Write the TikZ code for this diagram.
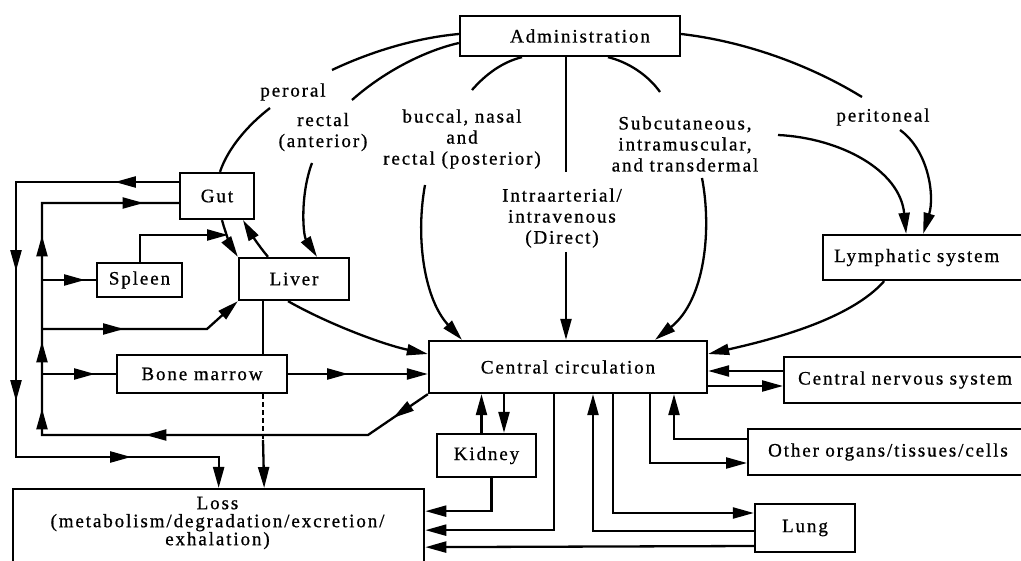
\documentclass[tikz,border=0pt]{standalone}
\usepackage{fontspec}
\setmainfont[LetterSpace=10,FakeBold=0.8]{Liberation Serif}
\usetikzlibrary{arrows.meta,decorations.markings,calc}
\begin{document}
\begin{tikzpicture}[x=1pt,y=-1pt, line width=2.3pt,
  >={Triangle[length=21pt,width=11pt]},
  box/.style={draw, rectangle, inner sep=0pt},
  lbl/.style={align=center, inner sep=1pt},
  marr/.style={postaction={decorate, decoration={markings, mark=at position #1 with {\arrow{>}}}}},
  font=\fontsize{19}{21}\selectfont]
\useasboundingbox (0,0) rectangle (1021,561);
\fill[white] (0,0) rectangle (1021,561);

% ---------- boxes ----------
\node[box, minimum width=220pt, minimum height=40pt] (adm) at (570,36) {\hspace*{20pt}Administration};
\node[box, minimum width=74pt, minimum height=46pt] (gut) at (217,196) {Gut};
\node[box, minimum width=85pt, minimum height=34pt] (spleen) at (139.5,280) {Spleen};
\node[box, minimum width=110pt, minimum height=42pt] (liver) at (294,279) {Liver};
\node[box, minimum width=170pt, minimum height=38pt] (bm) at (202,374) {Bone marrow};
\node[box, minimum width=278pt, minimum height=52pt] (cc) at (568,367) {Central circulation};
\node[box, minimum width=99pt, minimum height=43pt] (kidney) at (486.5,455.5) {Kidney};
\node[box, minimum width=100pt, minimum height=48pt] (lung) at (805,528) {Lung};
\node[box, anchor=west, minimum height=45pt, text width=200pt, inner xsep=11pt, align=left] (lymph) at (822,257.5) {Lymphatic system};
\node[box, anchor=west, minimum height=46pt, text width=240pt, inner xsep=14pt, align=left] (cns) at (783,380) {Central nervous system};
\node[box, anchor=west, minimum height=46pt, text width=260pt, inner xsep=20pt, align=left] (other) at (747,452) {Other organs/tissues/cells};
\node[box, anchor=north west, minimum width=411pt, minimum height=120pt] (loss) at (12,488) {};
\node[lbl, font=\fontsize{19}{18}\selectfont] (losstext) at (217.5,523) {Loss\\(metabolism/degradation/excretion/\\exhalation)};

% ---------- route labels ----------
\node[lbl] (lper) at (293,92) {peroral};
\node[lbl] (lrec) at (323,132) {rectal\\(anterior)};
\node[lbl] (lbuc) at (462,139) {buccal, nasal\\and\\rectal (posterior)};
\node[lbl] (liv) at (562,218) {Intraarterial/\\intravenous\\(Direct)};
\node[lbl] (lsub) at (685,144) {Subcutaneous,\\intramuscular,\\and transdermal};
\node[lbl] (lprt) at (883,117) {peritoneal};

% ---------- free ends ----------
\coordinate (p1) at (332,70);  \coordinate (p2) at (270,108);
\coordinate (r1) at (352,100); \coordinate (r2) at (312,163);
\coordinate (b1) at (472,90);  \coordinate (b2) at (425,185);
\coordinate (i1) at (566,172); \coordinate (i2) at (566,252);
\coordinate (s1) at (660,92);  \coordinate (s2) at (702,178); \coordinate (s3) at (778,135);
\coordinate (t1) at (862,97);  \coordinate (t2) at (900,130);
\coordinate (dj) at (368,435); \coordinate (ij1) at (42,435); \coordinate (ij2) at (42,203);
\coordinate (oj1) at (16,182); \coordinate (oj2) at (16,457);
\coordinate (lb) at (207,329); \coordinate (sl) at (228,235); \coordinate (dl) at (263,440);

% ---------- administration routes ----------
\draw ([yshift=2pt]adm.west) .. controls (415,38) and (370,52) .. (p1);
\draw (p2) .. controls (248,125) and (228,148) .. ([xshift=3pt]gut.north);
\draw ([yshift=-7pt]adm.west) .. controls (420,52) and (380,75) .. (r1);
\draw[->] (r2) .. controls (300,195) and (303,235) .. ([xshift=23pt]liver.north);
\draw ([xshift=-48pt]adm.south) .. controls (502,62) and (485,75) .. (b1);
\draw[->] (b2) .. controls (415,240) and (425,300) .. ([xshift=-106pt]cc.north);
\draw ([xshift=-4pt]adm.south) -- (i1);
\draw[->] (i2) -- ([xshift=-2pt]cc.north);
\draw ([xshift=38pt]adm.south) .. controls (628,62) and (648,75) .. (s1);
\draw[->] (s2) .. controls (712,230) and (705,300) .. ([xshift=87pt]cc.north);
\draw[->] (s3) .. controls (840,138) and (900,170) .. ([xshift=-28pt]lymph.north);
\draw ([yshift=2pt]adm.east) .. controls (750,42) and (815,68) .. (t1);
\draw[->] (t2) .. controls (928,150) and (935,195) .. ([xshift=-11pt]lymph.north);
\draw[->] ([xshift=-50pt]lymph.south) .. controls (850,320) and (770,340) .. ([yshift=13pt]cc.east);

% ---------- right side ----------
\draw[->] ([yshift=9pt]cns.west) -- ([yshift=-4pt]cc.east);
\draw[->] ([yshift=-19pt]cc.east) -- ([yshift=-6pt]cns.west);
\draw[->] ([xshift=82pt]cc.south) |- ([yshift=-11pt]other.west);
\draw[->] ([yshift=13pt]other.west) -| ([xshift=106pt]cc.south);
\draw[->] ([xshift=45pt]cc.south) |- ([yshift=15pt]lung.west);
\draw[->] ([yshift=-3pt]lung.west) -| ([xshift=25pt]cc.south);
\draw[->] ([yshift=-18pt]lung.west) -- ([yshift=2pt]loss.east);
\draw[->] ([xshift=-14pt]cc.south) |- ([yshift=19pt]loss.east);
\draw[->] ([xshift=5pt]kidney.south) |- ([yshift=38pt]loss.east);
\draw[->] ([xshift=-5pt]kidney.north) -- ([xshift=-86.5pt]cc.south);
\draw[->] ([xshift=-64pt]cc.south) -- ([xshift=17.5pt]kidney.north);

% ---------- left side ----------
\draw[->] ([xshift=-6pt]liver.south) .. controls (330,325) and (385,345) .. ([yshift=13pt]cc.west);
\draw[->, marr=60pt] (bm.east) -- (cc.west |- bm.east);
\draw[line join=miter, marr=42pt, marr=295pt, marr=425pt, marr=492pt, marr=598pt, marr=732pt]
  (cc.south west) -- (dj) -- (ij1) -- (ij2) -- ([yshift=-7pt]gut.west);
\draw[marr=43pt] (ij1 |- spleen.west) -- (spleen.west);
\draw[->, marr=82pt] (ij1 |- lb) -- (lb) -- (liver.south west);
\draw[marr=53pt] (ij1 |- bm.west) -- (bm.west);
\draw[->, line join=miter, marr=64pt, marr=252pt, marr=382pt, marr=553pt]
  ([yshift=14pt]gut.west) -- (oj1) -- (oj2) -| (loss.north);
\draw[->] ([xshift=0.5pt]spleen.north) |- (sl);
\draw[->] ([xshift=5pt]gut.south) .. controls (226,235) and (232,248) .. (liver.north west);
\draw[->] ([xshift=-26pt]liver.north) .. controls (258,245) and (250,232) .. ([xshift=26pt]gut.south);
\draw ([xshift=-31pt]liver.south) -- ([xshift=61pt]bm.north);
\draw[dash pattern=on 5pt off 3pt] ([xshift=61pt]bm.south) -- (dl);
\draw[->] (dl) -- ([xshift=45.5pt]loss.north);
\end{tikzpicture}
\end{document}
